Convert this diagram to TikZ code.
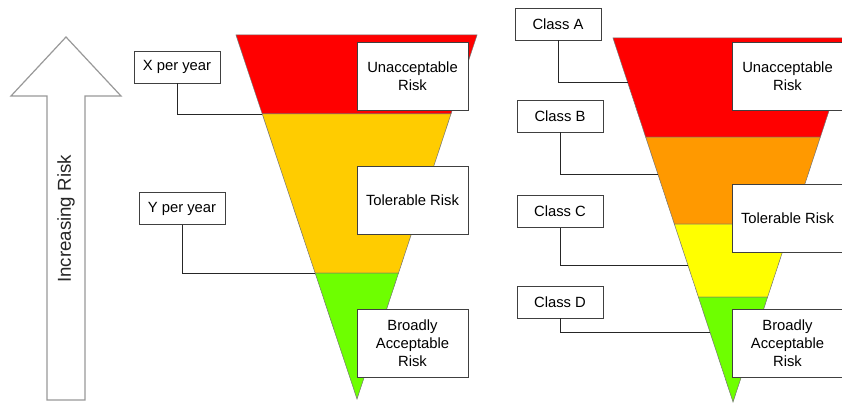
\documentclass[tikz,border=0pt]{standalone}
\usepackage{fontspec}
\setmainfont{Liberation Sans}
\usetikzlibrary{calc}

\begin{document}
\begin{tikzpicture}[x=1pt,y=-1pt,
  every node/.style={font=\fontsize{14.8}{18}\selectfont},
  classbox/.style={draw=black!75,fill=white,line width=0.8pt,minimum width=86pt,minimum height=32pt,inner sep=0pt},
  riskbox/.style={draw=black!75,fill=white,line width=0.8pt,minimum width=111pt,minimum height=68pt,inner sep=0pt,align=center},
  band/.style={draw=black!55,line width=0.5pt},
  leader/.style={draw=black!85,line width=0.8pt}]
\clip (0,0) rectangle (842,403);
\fill[white] (0,0) rectangle (842,403);
\draw[gray!80,line width=1.2pt,fill=white] (66,37) -- (121,96) -- (85,96) -- (85,400) -- (47,400) -- (47,96) -- (11,96) -- cycle;
\node[rotate=90,font=\fontsize{18.7}{22}\selectfont,text=black!85] (incr) at (66,219) {Increasing Risk};
\coordinate (Ltl) at (236,35);
\coordinate (Ltr) at (477,35);
\coordinate (Lap) at (357,399);
\fill[red,band] (Ltl) -- (Ltr) -- ($(Ltr)!0.217!(Lap)$) -- ($(Ltl)!0.217!(Lap)$) -- cycle;
\fill[band,fill={rgb,255:red,255;green,204;blue,0}] ($(Ltl)!0.217!(Lap)$) -- ($(Ltr)!0.217!(Lap)$) -- ($(Ltr)!0.654!(Lap)$) -- ($(Ltl)!0.654!(Lap)$) -- cycle;
\fill[band,fill={rgb,255:red,110;green,255;blue,0}] ($(Ltl)!0.654!(Lap)$) -- ($(Ltr)!0.654!(Lap)$) -- (Lap) -- cycle;
\coordinate (xl) at ($(Ltl)!0.217!(Lap)$);
\coordinate (yl) at ($(Ltl)!0.654!(Lap)$);
\node[classbox] (xbox) at (177,67) {X per year};
\node[classbox] (ybox) at (182,208.5) {Y per year};
\draw[leader] (xbox.south) |- (xl);
\draw[leader] (ybox.south) |- (yl);
\node[riskbox] (unacc1) at (412.5,76) {Unacceptable\\Risk};
\node[riskbox] (toler1) at (412.5,200.5) {Tolerable Risk};
\node[riskbox] (broad1) at (412.5,343.5) {Broadly\\Acceptable\\Risk};
\coordinate (Rtl) at (613,38);
\coordinate (Rtr) at (853,38);
\coordinate (Rap) at (733,402);
\fill[red,band] (Rtl) -- (Rtr) -- ($(Rtr)!0.272!(Rap)$) -- ($(Rtl)!0.272!(Rap)$) -- cycle;
\fill[band,fill={rgb,255:red,255;green,153;blue,0}] ($(Rtl)!0.272!(Rap)$) -- ($(Rtr)!0.272!(Rap)$) -- ($(Rtr)!0.511!(Rap)$) -- ($(Rtl)!0.511!(Rap)$) -- cycle;
\fill[band,fill={rgb,255:red,255;green,255;blue,0}] ($(Rtl)!0.511!(Rap)$) -- ($(Rtr)!0.511!(Rap)$) -- ($(Rtr)!0.712!(Rap)$) -- ($(Rtl)!0.712!(Rap)$) -- cycle;
\fill[band,fill={rgb,255:red,110;green,255;blue,0}] ($(Rtl)!0.712!(Rap)$) -- ($(Rtr)!0.712!(Rap)$) -- (Rap) -- cycle;
\coordinate (al) at ($(Rtl)!0.121!(Rap)$);
\coordinate (bl) at ($(Rtl)!0.376!(Rap)$);
\coordinate (cl) at ($(Rtl)!0.624!(Rap)$);
\coordinate (dl) at ($(Rtl)!0.810!(Rap)$);
\node[classbox] (clA) at (558,24) {Class A};
\node[classbox] (clB) at (560,116) {Class B};
\node[classbox] (clC) at (560,211.5) {Class C};
\node[classbox] (clD) at (560,302) {Class D};
\draw[leader] (clA.south) |- (al);
\draw[leader] (clB.south) |- (bl);
\draw[leader] (clC.south) |- (cl);
\draw[leader] (clD.south) |- (dl);
\node[riskbox] (unacc2) at (787.5,76.5) {Unacceptable\\Risk};
\node[riskbox] (toler2) at (787.5,218) {Tolerable Risk};
\node[riskbox] (broad2) at (787.5,343.5) {Broadly\\Acceptable\\Risk};
\end{tikzpicture}
\end{document}
